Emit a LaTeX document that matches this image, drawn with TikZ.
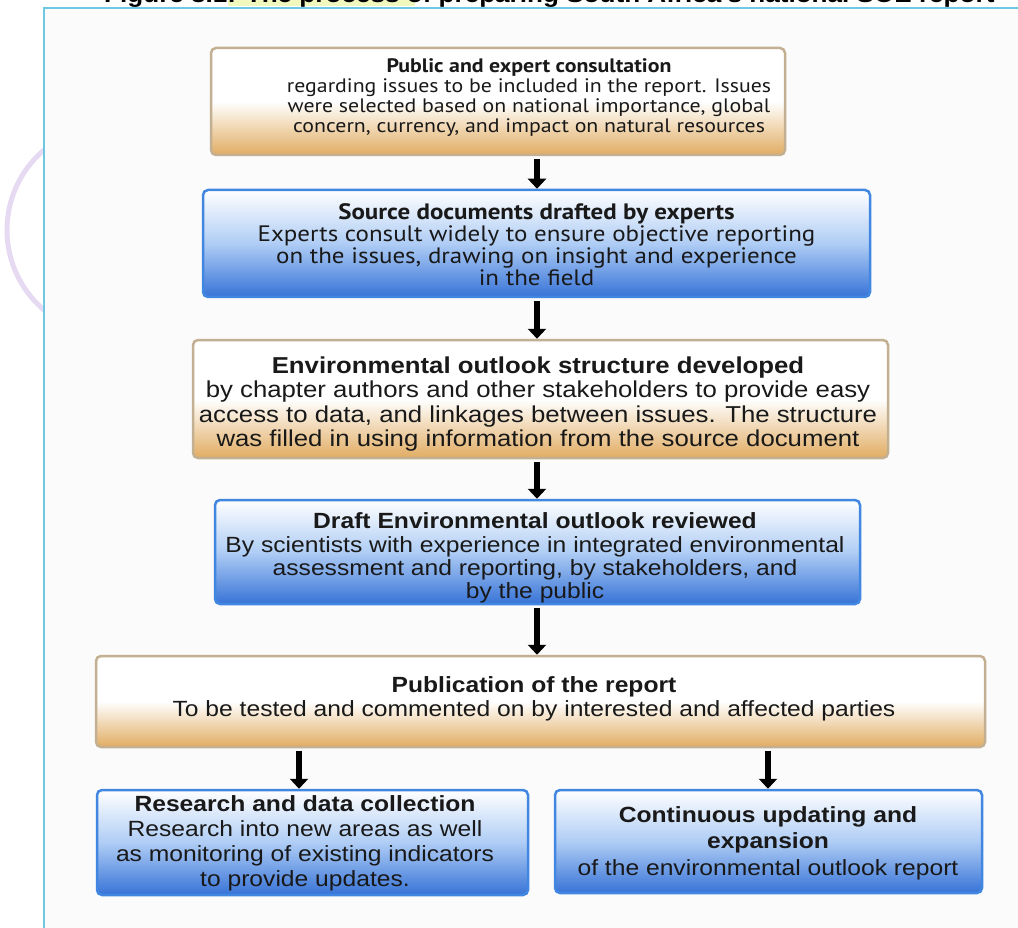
\documentclass[tikz,border=0pt]{standalone}
\usepackage{fontspec}
\setmainfont{Liberation Sans}
\newfontfamily\myr[FakeStretch=1.12]{PT Sans}
\newfontfamily\wide[FakeStretch=1.12]{Liberation Sans}
\usetikzlibrary{arrows.meta}
\definecolor{framec}{RGB}{110,200,225}
\definecolor{arcc}{RGB}{230,217,242}
\definecolor{tanc}{RGB}{225,172,98}
\definecolor{tanedge}{RGB}{195,175,145}
\definecolor{bluec}{RGB}{55,115,215}
\definecolor{bluemid}{RGB}{175,205,245}
\definecolor{blueedge}{RGB}{65,135,225}
\definecolor{hl}{RGB}{240,248,190}
\tikzset{
  tanbox/.style={draw=tanedge, line width=2.5pt, rounded corners=5pt,
    top color=white, bottom color=tanc, middle color=white, inner sep=0pt},
  bluebox/.style={draw=blueedge, line width=2.5pt, rounded corners=5pt,
    top color=white, bottom color=bluec, middle color=bluemid, inner sep=0pt},
  txt/.style={align=center, inner sep=0pt, text=black!90},
  arr/.style={line width=6.5pt, -{Triangle[width=18pt,length=10pt]}, shorten <=3pt},
}
\begin{document}
\begin{tikzpicture}[x=1pt,y=-1pt]
\useasboundingbox (0,0) rectangle (1018,928);
\clip (0,0) rectangle (1018,928);
% purple arc
\draw[arcc, line width=5pt] (112,230) circle (105);
% frame
\fill[white!98.5!black] (44,8) rectangle (1018,928);
\draw[framec, line width=2pt] (44,928) -- (44,8) -- (1018,8);
% title (cut off at the top, as in the source)
\fill[hl] (228,0) rectangle (415,6);
\node[anchor=base west, inner sep=0pt, font=\wide\bfseries\fontsize{23.3}{24}\selectfont] (title) at (104,3)
  {Figure 8.1: The process of preparing South Africa's national SOE report};
% boxes
\node[tanbox, minimum width=574, minimum height=107] (b1) at (498,101.5) {};
\node[txt, font=\myr\fontsize{19.5}{20}\selectfont] (t1) at (529,98)
  {\textbf{Public and expert consultation}\\regarding issues to be included in the report. Issues\\were selected based on national importance, global\\concern, currency, and impact on natural resources};
\node[bluebox, minimum width=667, minimum height=107] (b2) at (536.5,243.5) {};
\node[txt, font=\myr\fontsize{22.3}{22}\selectfont] (t2) at (536.5,245)
  {\textbf{Source documents drafted by experts}\\Experts consult widely to ensure objective reporting\\on the issues, drawing on insight and experience\\in the field};
\node[tanbox, minimum width=695, minimum height=118] (b3) at (540.5,399) {};
\node[txt, font=\wide\fontsize{23}{24.5}\selectfont] (t3) at (538,404)
  {\textbf{Environmental outlook structure developed}\\by chapter authors and other stakeholders to provide easy\\access to data, and linkages between issues. The structure\\was filled in using information from the source document};
\node[bluebox, minimum width=645, minimum height=104] (b4) at (537.5,552) {};
\node[txt, font=\wide\fontsize{22}{23.3}\selectfont] (t4) at (535,558)
  {\textbf{Draft Environmental outlook reviewed}\\By scientists with experience in integrated environmental\\assessment and reporting, by stakeholders, and\\by the public};
\node[tanbox, minimum width=889, minimum height=91] (b5) at (540.5,701.5) {};
\node[txt, font=\wide\fontsize{22}{24}\selectfont] (t5) at (534,699)
  {\textbf{Publication of the report}\\To be tested and commented on by interested and affected parties};
\node[bluebox, minimum width=431, minimum height=105] (b6) at (312.5,842.5) {};
\node[txt, font=\wide\fontsize{22}{25}\selectfont] (t6) at (305,843)
  {\textbf{Research and data collection}\\Research into new areas as well\\as monitoring of existing indicators\\to provide updates.};
\node[bluebox, minimum width=427, minimum height=103] (b7) at (768.5,841.5) {};
\node[txt, font=\wide\fontsize{22}{26.5}\selectfont] (t7) at (768,843)
  {\textbf{Continuous updating and}\\\textbf{expansion}\\of the environmental outlook report};
% arrows
\coordinate (c1) at (537,0);
\coordinate (cl) at (299,0);
\coordinate (cr) at (768,0);
\draw[arr] (b1.south -| c1) -- (b2.north -| c1);
\draw[arr] (b2.south -| c1) -- (b3.north -| c1);
\draw[arr] (b3.south -| c1) -- (b4.north -| c1);
\draw[arr] (b4.south -| c1) -- (b5.north -| c1);
\draw[arr] (b5.south -| cl) -- (b6.north -| cl);
\draw[arr] (b5.south -| cr) -- (b7.north -| cr);
\end{tikzpicture}
\end{document}
